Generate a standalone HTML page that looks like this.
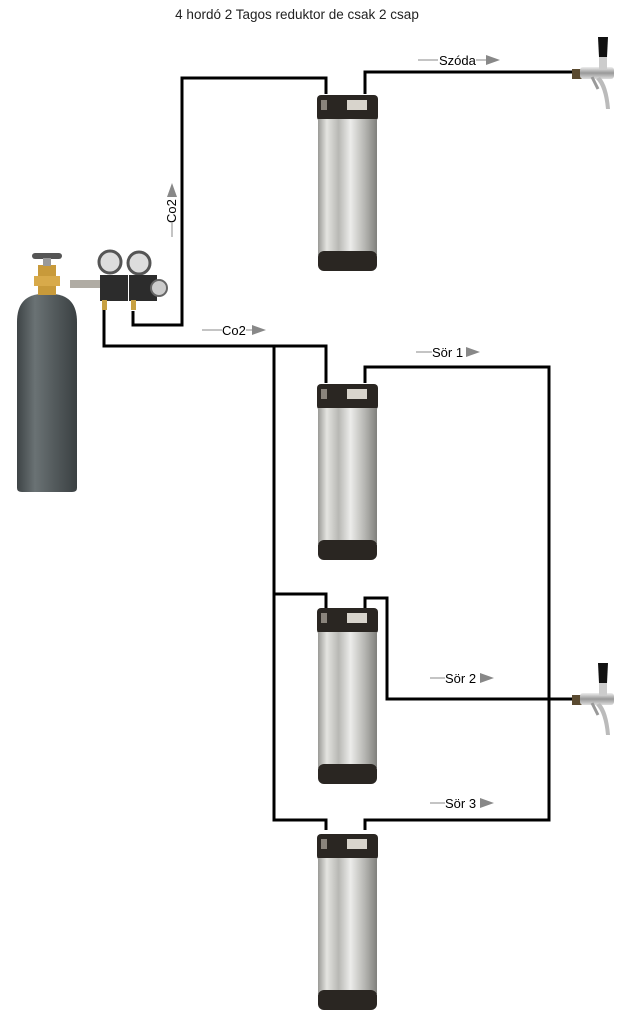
<!DOCTYPE html>
<html><head><meta charset="utf-8"><style>
html,body{margin:0;padding:0;background:#fff}
svg{display:block}
text{font-family:"Liberation Sans",sans-serif}
</style></head><body>
<svg width="630" height="1021" viewBox="0 0 630 1021" xmlns="http://www.w3.org/2000/svg">
<defs>
<linearGradient id="steel" x1="0" x2="1" y1="0" y2="0">
<stop offset="0" stop-color="#9a9a96"/><stop offset="0.15" stop-color="#e4e4e0"/><stop offset="0.35" stop-color="#b8b8b4"/><stop offset="0.55" stop-color="#ececea"/><stop offset="0.8" stop-color="#b4b4b0"/><stop offset="1" stop-color="#80807c"/>
</linearGradient>
<linearGradient id="gas" x1="0" x2="1">
<stop offset="0" stop-color="#3e4446"/><stop offset="0.3" stop-color="#6a7274"/><stop offset="0.6" stop-color="#555c5e"/><stop offset="1" stop-color="#3a4042"/>
</linearGradient>
<linearGradient id="chrome" x1="0" x2="0" y1="0" y2="1">
<stop offset="0" stop-color="#eee"/><stop offset="0.5" stop-color="#999"/><stop offset="1" stop-color="#ddd"/>
</linearGradient>
<g id="keg">
<rect x="0" y="2" width="61" height="26" rx="4" fill="#2a2622"/>
<rect x="30" y="7" width="20" height="10" fill="#d8d4cc"/>
<rect x="4" y="7" width="6" height="10" fill="#8a847c"/>
<rect x="1" y="26" width="59" height="136" fill="url(#steel)"/>
<rect x="1" y="158" width="59" height="20" rx="6" fill="#2a2622"/>
</g>
<g id="tap">
<rect x="0" y="32" width="10" height="10" fill="#5a4a30"/>
<rect x="8" y="30" width="34" height="12" rx="3" fill="url(#chrome)"/>
<path d="M28 40 Q36 48 38 72 L34 72 Q32 50 24 42Z" fill="#bbb"/>
<path d="M20 40 L26 52" stroke="#999" stroke-width="3"/>
<rect x="27" y="18" width="8" height="14" fill="#ccc"/>
<path d="M26 0 L36 0 L35 20 L27 20Z" fill="#111"/>
</g>
</defs>

<text x="297" y="19" font-size="13.5" text-anchor="middle" fill="#222">4 hordó 2 Tagos reduktor de csak 2 csap</text>

<g fill="none" stroke="#000" stroke-width="3">
<polyline points="133,311 133,325 182,325 182,78 326,78 326,94"/>
<polyline points="365,94 365,72 572,72"/>
<polyline points="104,310 104,346 326,346 326,383"/>
<polyline points="274,346 274,820 326,820 326,830"/>
<polyline points="274,594 326,594 326,608"/>
<polyline points="365,383 365,367 549,367 549,820 365,820 365,830"/>
<polyline points="365,608 365,598 387,598 387,699 572,699"/>
</g>

<use href="#keg" x="317" y="93"/>
<use href="#keg" x="317" y="382"/>
<use href="#keg" x="317" y="606"/>
<use href="#keg" x="317" y="832"/>

<use href="#tap" x="572" y="37"/>
<use href="#tap" x="572" y="663"/>

<path d="M17 488 L17 322 Q17 296 40 294 L54 294 Q77 296 77 322 L77 488 Q77 492 72 492 L22 492 Q17 492 17 488Z" fill="url(#gas)"/>
<rect x="38" y="265" width="18" height="30" fill="#c89a3a"/>
<rect x="34" y="276" width="26" height="10" fill="#d8aa4a"/>
<rect x="32" y="253" width="30" height="6" rx="3" fill="#555"/>
<rect x="43" y="258" width="8" height="8" fill="#999"/>

<rect x="70" y="280" width="32" height="8" fill="#b0aca4"/>
<circle cx="110" cy="262" r="11" fill="#ddd" stroke="#555" stroke-width="3"/>
<circle cx="139" cy="263" r="11" fill="#ddd" stroke="#555" stroke-width="3"/>
<rect x="100" y="275" width="28" height="26" fill="#2c2c2c"/>
<rect x="129" y="275" width="28" height="26" fill="#2c2c2c"/>
<circle cx="159" cy="288" r="8" fill="#ccc" stroke="#666" stroke-width="2"/>
<rect x="102" y="300" width="5" height="10" fill="#c8a040"/>
<rect x="131" y="300" width="5" height="10" fill="#c8a040"/>

<g font-size="13" fill="#000">
<line x1="418" y1="60" x2="438" y2="60" stroke="#888"/><text x="439" y="65">Szóda</text><path d="M476 60 L488 60" stroke="#888"/><path d="M486 55 L500 60 L486 65Z" fill="#888"/>
<line x1="202" y1="330" x2="222" y2="330" stroke="#888"/><text x="222" y="335">Co2</text><path d="M246 330 L254 330" stroke="#888"/><path d="M252 325 L266 330 L252 335Z" fill="#888"/>
<line x1="416" y1="352" x2="432" y2="352" stroke="#888"/><text x="432" y="357">Sör 1</text><path d="M466 347 L480 352 L466 357Z" fill="#888"/>
<line x1="430" y1="678" x2="445" y2="678" stroke="#888"/><text x="445" y="683">Sör 2</text><path d="M480 673 L494 678 L480 683Z" fill="#888"/>
<line x1="430" y1="803" x2="445" y2="803" stroke="#888"/><text x="445" y="808">Sör 3</text><path d="M480 798 L494 803 L480 808Z" fill="#888"/>
<g transform="translate(176,223) rotate(-90)"><line x1="-14" y1="-4" x2="0" y2="-4" stroke="#888"/><text x="0" y="0">Co2</text><path d="M26 -9 L40 -4 L26 1Z" fill="#888"/></g>
</g>
</svg>
</body></html>
